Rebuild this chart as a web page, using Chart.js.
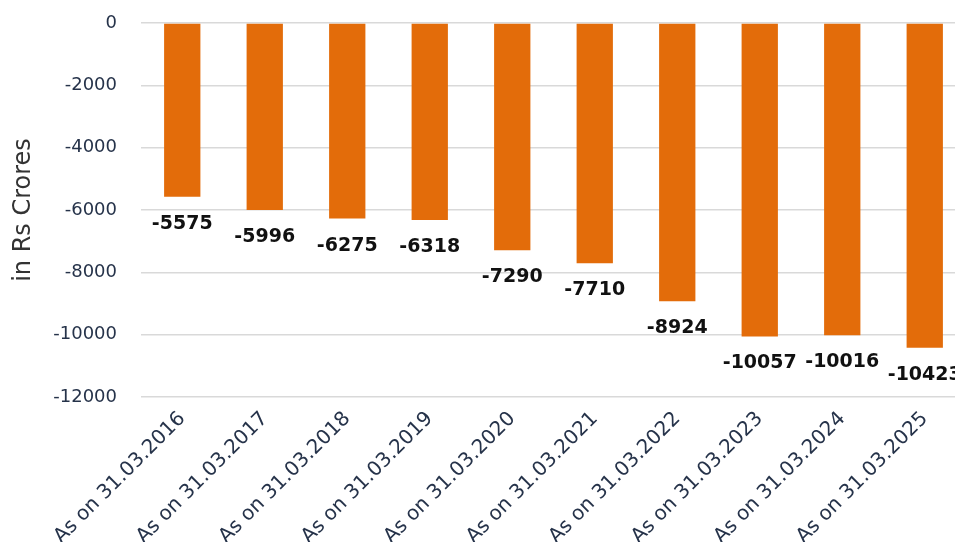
<!DOCTYPE html>
<html>
<head>
<meta charset="utf-8">
<script src="https://cdn.jsdelivr.net/npm/chart.js@4.4.1/dist/chart.umd.min.js"></script>
<style>
  html, body { margin: 0; padding: 0; background: #fff; overflow: hidden; }
  #wrap { width: 955px; height: 542px; overflow: hidden; }
</style>
</head>
<body>
<div id="wrap">
  <canvas id="barChart" width="968" height="542"></canvas>
</div>
<script>
// categorias e valores (Rs Crores)
const categories = [
  'As on 31.03.2016', 'As on 31.03.2017', 'As on 31.03.2018', 'As on 31.03.2019',
  'As on 31.03.2020', 'As on 31.03.2021', 'As on 31.03.2022', 'As on 31.03.2023',
  'As on 31.03.2024', 'As on 31.03.2025'
];
const values = [-5575, -5996, -6275, -6318, -7290, -7710, -8924, -10057, -10016, -10423];
const yTicks = [0, -2000, -4000, -6000, -8000, -10000, -12000];

// rótulos de valor abaixo da ponta de cada barra
const valueLabels = {
  id: 'valueLabels',
  afterDatasetsDraw(chart) {
    const ctx = chart.ctx;
    const meta = chart.getDatasetMeta(0);
    ctx.save();
    ctx.font = 'bold 19px "DejaVu Sans"';
    ctx.fillStyle = '#111';
    ctx.textAlign = 'center';
    ctx.textBaseline = 'middle';
    meta.data.forEach((bar, i) => {
      ctx.fillText(String(values[i]), bar.x, bar.y + 27);
    });
    ctx.restore();
  }
};

const ctx = document.getElementById('barChart').getContext('2d');
new Chart(ctx, {
  type: 'bar',
  data: {
    labels: categories,
    datasets: [{
      data: values,
      backgroundColor: '#E36C0A',
      borderWidth: 0,
      categoryPercentage: 1,
      barPercentage: 0.44
    }]
  },
  options: {
    responsive: false,
    animation: false,
    layout: { padding: { top: 23, right: 2, left: 0, bottom: 0 } },
    plugins: {
      legend: { display: false },
      tooltip: { enabled: false }
    },
    scales: {
      x: {
        grid: { display: false },
        border: { display: false },
        ticks: {
          color: '#26334a',
          font: { family: 'DejaVu Sans', size: 20 },
          minRotation: 45,
          maxRotation: 45,
          padding: 2
        },
        afterFit(scale) {
          scale.height = 145;
          scale.paddingLeft = 0;
          scale.paddingRight = 0;
        }
      },
      y: {
        min: Math.min(...yTicks),
        max: Math.max(...yTicks),
        afterBuildTicks(scale) { scale.ticks = yTicks.map(v => ({ value: v })); },
        grid: { color: '#d9d9d9', lineWidth: 1.5, drawTicks: false },
        border: { display: false },
        ticks: {
          color: '#26334a',
          font: { family: 'DejaVu Sans', size: 18 },
          padding: 24,
          callback: v => String(v)
        },
        title: {
          display: true,
          text: 'in Rs Crores',
          color: '#333',
          font: { family: 'DejaVu Sans', size: 24 },
          padding: { top: 9, bottom: 0 }
        },
        afterFit(scale) {
          scale.width = 141;
          scale.paddingTop = 0;
          scale.paddingBottom = 0;
        }
      }
    }
  },
  plugins: [valueLabels]
});
</script>
</body>
</html>
